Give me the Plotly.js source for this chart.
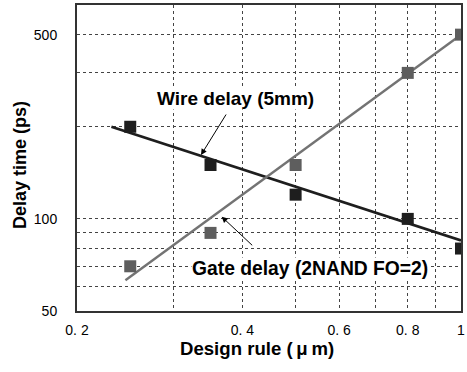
<!DOCTYPE html>
<html>
<head>
<meta charset="utf-8">
<script src="https://cdn.plot.ly/plotly-3.0.1.min.js"></script>
<style>html,body{margin:0;padding:0;background:#fff;}#chart{width:467px;height:372px;}</style>
</head>
<body>
<div id="chart"></div>
<script>
// Data
const designRule = [0.25, 0.35, 0.5, 0.8, 1.0];
const wireDelay = [200, 150, 120, 100, 80];
const gateDelay = [70, 90, 150, 300, 400];
// Trend lines (end points)
const wireFitX = [0.231, 1.0];
const wireFitY = [200, 85];
const gateFitX = [0.245, 1.0];
const gateFitY = [63, 400];
// Tick labels
const xTickVals = [0.2, 0.3, 0.4, 0.5, 0.6, 0.7, 0.8, 0.9, 1.0];
const xTickText = ['0. 2', '', '0. 4', '', '0. 6', '', '0. 8', '', '1'];
const yTickVals = [50, 60, 70, 80, 90, 100, 200, 300, 400];
const yTickText = ['50', '', '', '', '', '100', '', '', '500'];

const FONT = 'Liberation Sans, Arial, sans-serif';
const traces = [
  {x: wireFitX, y: wireFitY, mode: 'lines', line: {color: '#1e1e1e', width: 2.8}, showlegend: false, hoverinfo: 'skip'},
  {x: gateFitX, y: gateFitY, mode: 'lines', line: {color: '#737373', width: 2.4}, showlegend: false, hoverinfo: 'skip'},
  {x: designRule, y: wireDelay, mode: 'markers', marker: {symbol: 'square', size: 12, color: '#1e1e1e'}, name: 'Wire delay (5mm)', showlegend: false},
  {x: designRule, y: gateDelay, mode: 'markers', marker: {symbol: 'square', size: 12, color: '#5e5e5e'}, name: 'Gate delay (2NAND FO=2)', showlegend: false}
];

const L = 77, R = 461, T = 5, B = 311;
function px(x) { return (x - L) / (R - L); }
function py(y) { return (B - y) / (B - T); }

const layout = {
  width: 467, height: 372,
  margin: {l: L, r: 467 - R, t: T, b: 372 - B, pad: 0},
  paper_bgcolor: '#fff', plot_bgcolor: '#fff',
  font: {family: FONT, size: 14, color: '#000'},
  xaxis: {
    type: 'log', range: [Math.log10(0.2), Math.log10(1.0)],
    tickvals: xTickVals, ticktext: xTickText, ticks: '',
    showgrid: true, gridcolor: '#444', gridwidth: 1, griddash: 'dot',
    showline: true, linecolor: '#333', linewidth: 2, mirror: true,
    zeroline: false, ticklabelstandoff: 5,
    tickfont: {family: FONT, size: 14, color: '#000'}
  },
  yaxis: {
    type: 'log', range: [Math.log10(50), Math.log10(500)],
    tickvals: yTickVals, ticktext: yTickText, ticks: '',
    showgrid: true, gridcolor: '#444', gridwidth: 1, griddash: 'dot',
    showline: true, linecolor: '#333', linewidth: 2, mirror: true,
    zeroline: false, ticklabelstandoff: 15,
    tickfont: {family: FONT, size: 14, color: '#000'}
  },
  annotations: [
    {xref: 'paper', yref: 'paper', x: px(20), y: py(165), text: '<b>Delay time (ps)</b>', textangle: -90,
     showarrow: false, font: {family: FONT, size: 18, color: '#000'}, xanchor: 'center', yanchor: 'middle'},
    {xref: 'paper', yref: 'paper', x: px(257), y: py(348), text: '<b>Design rule (\u2009\u03bc\u2009m)</b>',
     showarrow: false, font: {family: FONT, size: 18.6, color: '#000'}, xanchor: 'center', yanchor: 'middle'},
    {xref: 'paper', yref: 'paper', x: px(201), y: py(155), text: '', showarrow: true,
     ax: 26, ay: -42, arrowhead: 2, arrowsize: 1.2, arrowwidth: 1, arrowcolor: '#000', standoff: 0},
    {xref: 'paper', yref: 'paper', x: px(221.7), y: py(216.7), text: '', showarrow: true,
     ax: 32, ay: 30, arrowhead: 2, arrowsize: 1.2, arrowwidth: 1, arrowcolor: '#000', standoff: 0},
    {xref: 'paper', yref: 'paper', x: px(235), y: py(98), text: '<b>Wire delay (5mm)</b>', showarrow: false,
     bgcolor: '#fff', borderpad: 0, font: {family: FONT, size: 19, color: '#000'}, xanchor: 'center', yanchor: 'middle'},
    {xref: 'paper', yref: 'paper', x: px(310), y: py(268), text: '<b>Gate delay (2NAND FO=2)</b>', showarrow: false,
     bgcolor: '#fff', borderpad: 0, font: {family: FONT, size: 19.3, color: '#000'}, xanchor: 'center', yanchor: 'middle'}
  ]
};

Plotly.newPlot('chart', traces, layout, {displayModeBar: false, staticPlot: true});
</script>
</body>
</html>
